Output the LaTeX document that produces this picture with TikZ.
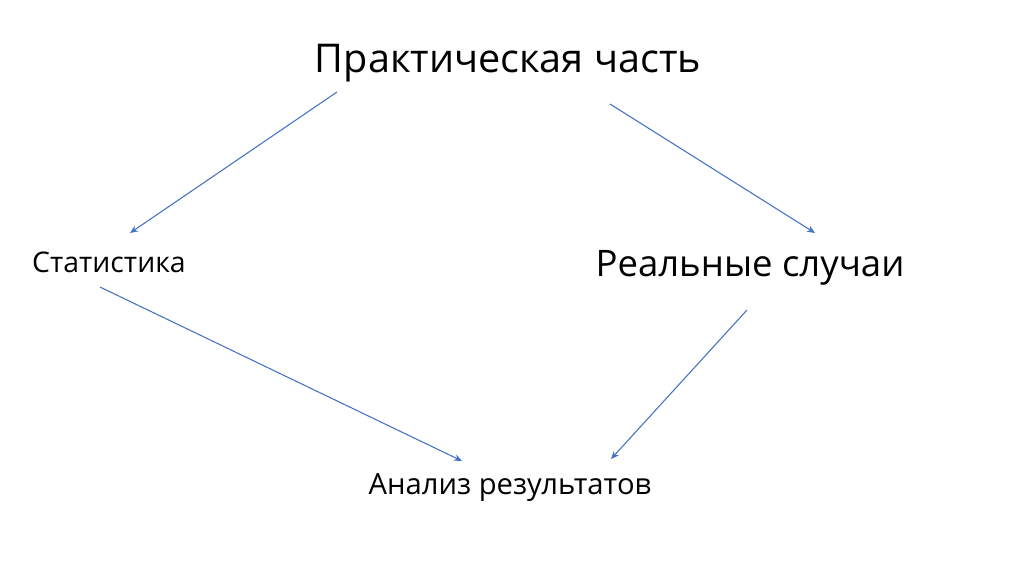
\documentclass[tikz,border=0pt]{standalone}
\usepackage{fontspec}
\setmainfont{Open Sans}
\usetikzlibrary{arrows.meta}
\begin{document}
\begin{tikzpicture}[x=0.75pt,y=-0.75pt,
  lbl/.style={inner sep=0pt,anchor=center},
  conn/.style={draw={rgb,255:red,68;green,114;blue,196},line width=0.8pt,-{Stealth[length=6pt,width=5pt]}}]
\useasboundingbox[fill=white] (0,0) rectangle (1024,574);
\node[lbl,font=\fontsize{29.7}{35}\selectfont] (top) at (508,63) {Практическая часть};
\node[lbl,font=\fontsize{21.3}{25}\selectfont] (stat) at (109,262) {Статистика};
\node[lbl,font=\fontsize{27.4}{33}\selectfont] (real) at (750,268) {Реальные случаи};
\node[lbl,font=\fontsize{21.9}{26}\selectfont] (anal) at (510,488) {Анализ результатов};
\coordinate (t1) at (337,92);
\coordinate (s1) at (130,233);
\coordinate (t2) at (610,104);
\coordinate (r1) at (815,233);
\coordinate (s2) at (100,287);
\coordinate (a1) at (462,461);
\coordinate (r2) at (747,310);
\coordinate (a2) at (611,459);
\draw[conn] (t1) -- (s1);
\draw[conn] (t2) -- (r1);
\draw[conn] (s2) -- (a1);
\draw[conn] (r2) -- (a2);
\end{tikzpicture}
\end{document}
